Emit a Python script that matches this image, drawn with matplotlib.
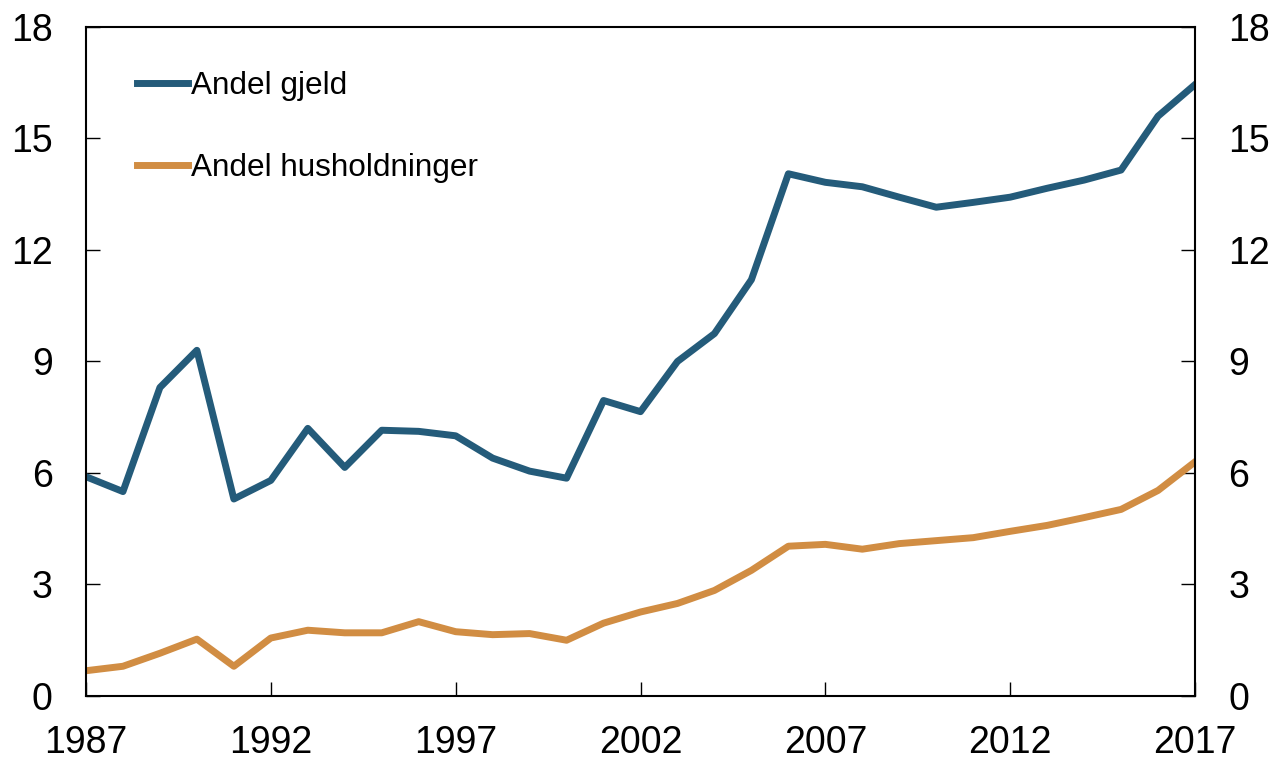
import matplotlib.pyplot as plt

plt.rcParams['font.family'] = ['Liberation Sans', 'DejaVu Sans']

years = list(range(1987, 2018))
andel_gjeld = [5.9, 5.5, 8.3, 9.3, 5.3, 5.8, 7.2, 6.15, 7.15, 7.12, 7.0, 6.4, 6.05, 5.86,
               7.95, 7.65, 9.0, 9.75, 11.2, 14.05, 13.82, 13.7, 13.42, 13.15, 13.28, 13.42,
               13.66, 13.88, 14.15, 15.6, 16.45]
andel_hush = [0.68, 0.8, 1.15, 1.53, 0.8, 1.56, 1.77, 1.7, 1.7, 2.0, 1.73, 1.65, 1.68, 1.5,
              1.96, 2.26, 2.49, 2.84, 3.38, 4.03, 4.08, 3.95, 4.1, 4.18, 4.26, 4.43,
              4.59, 4.8, 5.02, 5.53, 6.3]

xticks = [1987, 1992, 1997, 2002, 2007, 2012, 2017]
yticks = [0, 3, 6, 9, 12, 15, 18]

fig = plt.figure(figsize=(12.74, 7.59), dpi=100)
ax = fig.add_axes([0.0675, 0.083, 0.8705, 0.8815])

ax.plot(years, andel_gjeld, color='#245B7A', lw=5, label='Andel gjeld')
ax.plot(years, andel_hush, color='#D18D43', lw=5, label='Andel husholdninger')

ax.set_xlim(1987, 2017)
ax.set_ylim(0, 18)
ax.set_xticks(xticks)
ax.set_yticks(yticks)
ax.tick_params(axis='x', direction='in', length=10, width=1, labelsize=27, pad=21)
ax.tick_params(axis='y', direction='in', length=10, width=1, labelsize=27, pad=24,
               right=True, labelright=True)
for s in ax.spines.values():
    s.set_linewidth(1.5)

ax.legend(loc='upper left', bbox_to_anchor=(0.035, 0.953), frameon=False, fontsize=22.7,
          handlelength=1.6, handletextpad=0.1, labelspacing=1.65, borderaxespad=0)

fig.savefig('out.png', dpi=100)
